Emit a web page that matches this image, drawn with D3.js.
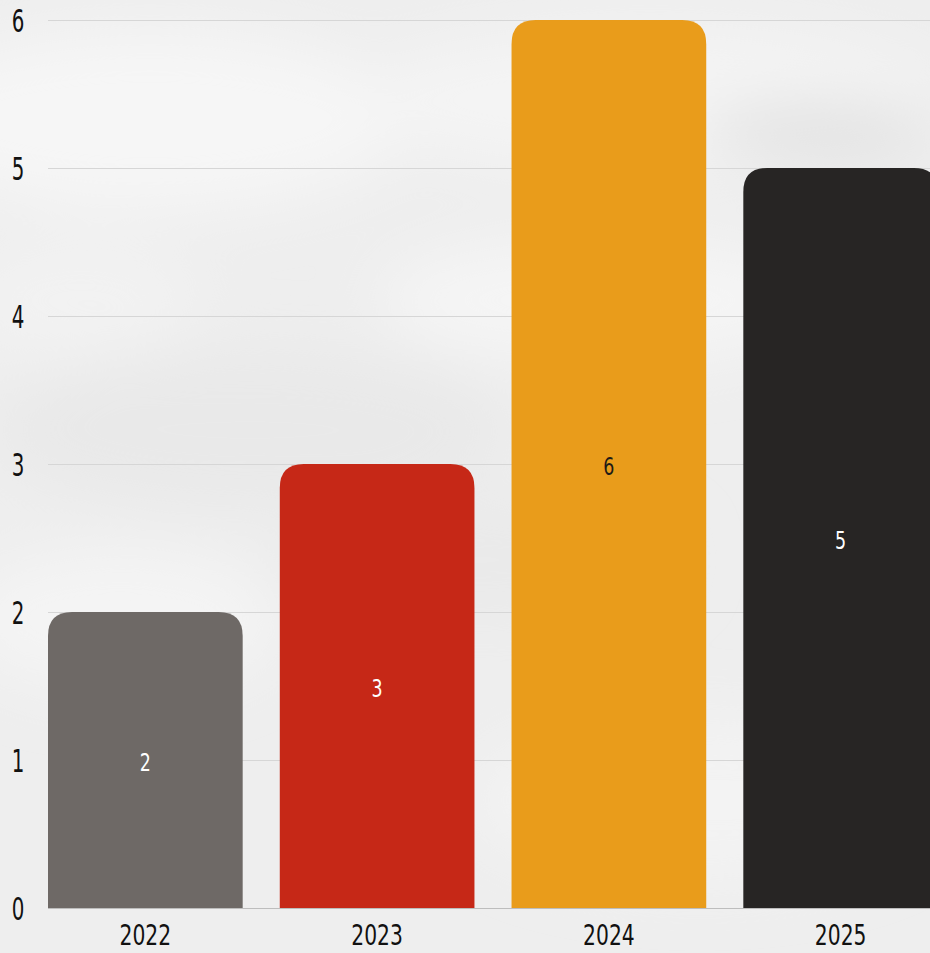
<!DOCTYPE html>
<html>
<head>
<meta charset="utf-8">
<script src="https://cdn.jsdelivr.net/npm/d3@7"></script>
<style>
  html, body { margin: 0; padding: 0; overflow: hidden; background: #efefef; }
  text { font-family: "DejaVu Sans", sans-serif; }
</style>
</head>
<body>
<div id="chart"></div>
<script>
var years = ["2022", "2023", "2024", "2025"];
var counts = [2, 3, 6, 5];
var barColors = ["#6e6966", "#c62817", "#e99c1b", "#272524"];
var labelColors = ["#ffffff", "#ffffff", "#1e1a16", "#ffffff"];
var yTicks = [0, 1, 2, 3, 4, 5, 6];

var width = 930, height = 953,
    margin = {top: 20, right: -8, bottom: 45, left: 48},
    radius = 24;

var svg = d3.select("#chart").append("svg")
    .attr("width", width)
    .attr("height", height);

// paper-ish background
var defs = svg.append("defs");
var blur = defs.append("filter").attr("id", "soft").attr("x", "-50%").attr("y", "-50%").attr("width", "200%").attr("height", "200%");
blur.append("feGaussianBlur").attr("stdDeviation", 30);

svg.append("rect").attr("width", width).attr("height", height).attr("fill", "#eeeeee");
var blobs = [
    [150, 120, 260, 90, "#f6f6f6"], [650, 100, 300, 70, "#f4f4f4"], [820, 130, 120, 25, "#e0e0e0"],
    [250, 430, 260, 80, "#e9e9e9"], [600, 300, 220, 60, "#f5f5f5"], [120, 620, 160, 70, "#f4f4f4"],
    [480, 560, 200, 60, "#eaeaea"], [700, 800, 230, 80, "#f3f3f3"], [80, 300, 120, 60, "#f2f2f2"]
];
svg.append("g").attr("filter", "url(#soft)")
    .selectAll("ellipse").data(blobs).enter().append("ellipse")
    .attr("cx", function (d) { return d[0]; })
    .attr("cy", function (d) { return d[1]; })
    .attr("rx", function (d) { return d[2]; })
    .attr("ry", function (d) { return d[3]; })
    .attr("fill", function (d) { return d[4]; });

var x = d3.scaleBand()
    .domain(years)
    .range([margin.left, width - margin.right])
    .paddingInner(0.16)
    .paddingOuter(0);

var y = d3.scaleLinear()
    .domain([0, 6])
    .range([height - margin.bottom, margin.top]);

// grid
svg.append("g")
    .selectAll("line").data(yTicks).enter().append("line")
    .attr("x1", margin.left)
    .attr("x2", width)
    .attr("y1", function (d) { return y(d) + 0.5; })
    .attr("y2", function (d) { return y(d) + 0.5; })
    .attr("stroke", function (d) { return d === 0 ? "#bdbdbd" : "#d6d6d6"; })
    .attr("stroke-width", 1);

// no condensed font installed, so the glyphs get narrowed with scale()
svg.append("g")
    .selectAll("text").data(yTicks).enter().append("text")
    .attr("transform", function (d) { return "translate(18," + y(d) + ") scale(0.62,1)"; })
    .attr("dy", "0.36em")
    .attr("text-anchor", "middle")
    .attr("font-size", 32)
    .attr("fill", "#111")
    .text(function (d) { return d; });

function barPath(d, i) {
    var x0 = x(years[i]), x1 = x0 + x.bandwidth(),
        y0 = y(0), y1 = y(d), r = Math.min(radius, (y0 - y1));
    return "M" + x0 + "," + y0 +
        "V" + (y1 + r) +
        "Q" + x0 + "," + y1 + " " + (x0 + r) + "," + y1 +
        "H" + (x1 - r) +
        "Q" + x1 + "," + y1 + " " + x1 + "," + (y1 + r) +
        "V" + y0 + "Z";
}

svg.append("g")
    .selectAll("path").data(counts).enter().append("path")
    .attr("d", barPath)
    .attr("fill", function (d, i) { return barColors[i]; });

// value labels
svg.append("g")
    .selectAll("text").data(counts).enter().append("text")
    .attr("transform", function (d, i) {
        return "translate(" + (x(years[i]) + x.bandwidth() / 2) + "," + ((y(0) + y(d)) / 2 + 2) + ") scale(0.7,1)";
    })
    .attr("dy", "0.36em")
    .attr("text-anchor", "middle")
    .attr("font-size", 25)
    .attr("fill", function (d, i) { return labelColors[i]; })
    .text(function (d) { return d; });

// x axis labels
svg.append("g")
    .selectAll("text").data(years).enter().append("text")
    .attr("transform", function (d) { return "translate(" + (x(d) + x.bandwidth() / 2) + "," + (height - 8) + ") scale(0.7,1)"; })
    .attr("text-anchor", "middle")
    .attr("font-size", 29)
    .attr("fill", "#111")
    .text(function (d) { return d; });
</script>
</body>
</html>
